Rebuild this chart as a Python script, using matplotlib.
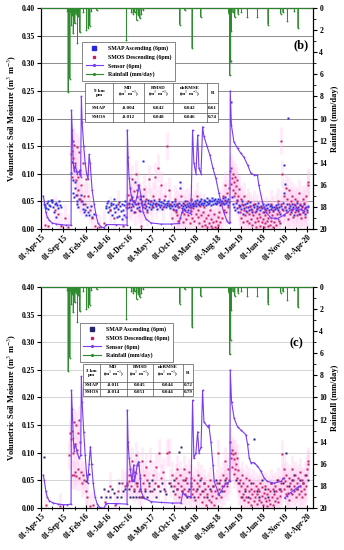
import matplotlib
matplotlib.use('Agg')
import matplotlib.pyplot as plt
import numpy as np
from matplotlib.lines import Line2D
from matplotlib.patches import Rectangle

plt.rcParams['font.family'] = ['Liberation Serif', 'DejaVu Serif']
plt.rcParams['mathtext.fontset'] = 'stix'

BASE = np.datetime64('2015-04-01')

# ---------------- data (days since 2015-04-01) ----------------
rain_day = [180, 185, 192, 197, 203, 208, 214, 220, 231, 240, 249, 258, 266, 290, 311, 323, 334, 345, 380,
            586, 620, 632, 643, 655, 666, 678, 689, 701,
            953, 987, 1037, 1097,
            1290, 1296, 1302, 1307, 1318, 1330, 1353, 1376, 1417, 1486,
            1559, 1646, 1662, 1692, 1740, 1765]
rain_mm = [0.3, 7.6, 0.5, 6.4, 0.4, 1.5, 0.6, 2.3, 1.4, 0.5, 3.2, 0.8, 2.2, 0.4, 2.0, 1.8, 1.6, 0.3, 0.2,
           2.9, 0.4, 0.5, 0.4, 1.1, 0.6, 0.9, 0.5, 0.2,
           1.5, 0.2, 3.6, 0.8,
           0.5, 6.1, 4.8, 2.1, 0.4, 0.8, 0.5, 0.4, 0.8, 0.8,
           1.5, 0.5, 0.4, 1.2, 0.3, 1.8]

# Panel (b) 9 km
sensor_b_day = [14, 21, 32, 41, 55, 75, 103, 137, 172, 205, 208, 213, 220, 226, 235, 247, 261, 271,
                276, 281, 292, 302, 312, 322, 329, 336, 350, 364, 377, 391, 412, 432, 446, 515, 590,
                592, 597, 604, 617, 631, 645, 659, 672, 686, 700, 720, 755, 823, 892, 947, 967, 974,
                1002, 1029, 1040, 1049, 1063, 1075, 1084, 1098, 1109, 1118, 1139, 1159, 1180, 1200,
                1221, 1235, 1255, 1276, 1290, 1297, 1299, 1307, 1324, 1349, 1372, 1393, 1418, 1441,
                1461, 1486, 1495, 1520, 1543, 1578, 1624, 1667, 1715, 1761, 1804, 1832]
sensor_b_val = [0.060, 0.050, 0.031, 0.022, 0.016, 0.011, 0.009, 0.008, 0.007, 0.007, 0.215, 0.180,
                0.120, 0.105, 0.115, 0.100, 0.105, 0.095, 0.240, 0.194, 0.150, 0.120, 0.100, 0.090,
                0.135, 0.120, 0.070, 0.045, 0.025, 0.010, 0.004, 0.002, 0.008, 0.008, 0.007, 0.179,
                0.130, 0.092, 0.062, 0.050, 0.045, 0.060, 0.080, 0.060, 0.031, 0.018, 0.011, 0.009,
                0.009, 0.010, 0.030, 0.035, 0.030, 0.028, 0.179, 0.120, 0.100, 0.170, 0.110, 0.100,
                0.185, 0.168, 0.150, 0.134, 0.110, 0.092, 0.065, 0.049, 0.030, 0.015, 0.010, 0.012,
                0.250, 0.188, 0.158, 0.146, 0.137, 0.130, 0.116, 0.101, 0.098, 0.097, 0.080, 0.049,
                0.031, 0.020, 0.019, 0.025, 0.035, 0.037, 0.033, 0.040]

smap_b_day = [18, 24, 29, 33, 38, 44, 49, 55, 60, 66, 71, 77, 82, 88, 93, 99, 104, 110, 116, 121, 127, 133,
              208, 212, 216, 220, 225, 230, 234, 239, 244, 249, 254, 259, 264, 269, 274, 279, 284, 290, 296,
              302, 308, 315, 322, 330, 340, 352, 366,
              442, 447, 452, 457, 462, 467, 472, 477, 482, 487, 492, 497, 502, 507, 512, 517, 522, 527, 532,
              537, 542, 547, 552, 557, 562, 567, 572, 577, 582, 587, 592,
              600, 605, 611, 616, 621, 626, 631, 636, 641, 646, 651, 656, 661, 666, 671, 676, 681, 686, 691,
              696, 701, 706, 711, 716, 721, 726, 731, 736, 741, 746, 751, 756, 761, 766, 771, 776, 781, 786,
              791, 796, 801, 806, 811, 816, 821, 826, 831, 836, 841, 846, 851, 856, 861, 866, 871, 876, 881,
              886, 891, 896, 901, 906, 911, 916, 921, 926, 931, 936, 941, 946, 951, 956, 961, 966, 971, 976,
              981, 986, 991, 996, 1001, 1006, 1011, 1016, 1021, 1026, 1031, 1036, 1041, 1046, 1051, 1056,
              1061, 1066, 1071, 1076, 1081, 1086, 1091, 1096, 1101, 1106, 1111, 1116, 1121, 1126, 1131,
              1136, 1141, 1146, 1151, 1156, 1161, 1166, 1171, 1176, 1181, 1186, 1191, 1196, 1201, 1206,
              1211, 1216, 1221, 1226, 1231, 1236, 1241, 1246, 1251, 1256, 1261, 1266, 1271, 1276, 1281,
              1286, 1291,
              1299, 1305, 1312, 1318, 1324, 1330, 1336, 1342, 1348, 1354, 1360, 1366, 1372, 1378, 1384, 1390,
              1396, 1402, 1408, 1414, 1420, 1426, 1432, 1438, 1444, 1450, 1456, 1462, 1468, 1474, 1480, 1486,
              1492, 1498, 1504, 1510, 1516, 1522, 1528, 1534, 1540, 1546, 1552, 1558, 1564, 1570, 1576, 1582,
              1588, 1594, 1600, 1606, 1612, 1618, 1624, 1630, 1636, 1642, 1648, 1654, 1660, 1666, 1669, 1672,
              1678, 1684, 1690, 1697, 1702, 1708, 1714, 1720, 1726, 1732, 1738, 1744, 1750, 1756, 1762, 1768,
              1774, 1780, 1786, 1792, 1798, 1804, 1810, 1816, 1822, 1828, 1834]
smap_b_val = [0.045, 0.040, 0.043, 0.038, 0.047, 0.050, 0.036, 0.044, 0.041, 0.052, 0.049, 0.053, 0.040, 0.031,
              0.046, 0.021, 0.048, 0.043, 0.038, 0.050, 0.044, 0.040,
              0.102, 0.121, 0.088, 0.066, 0.058, 0.085, 0.075, 0.062, 0.050, 0.046, 0.040, 0.055, 0.100, 0.106,
              0.062, 0.051, 0.045, 0.036, 0.031, 0.034, 0.026, 0.040, 0.030, 0.025, 0.041, 0.022, 0.028,
              0.042, 0.038, 0.047, 0.031, 0.051, 0.040, 0.035, 0.048, 0.043, 0.026, 0.045, 0.038, 0.055, 0.030,
              0.043, 0.040, 0.021, 0.036, 0.049, 0.023, 0.041, 0.032, 0.018, 0.046, 0.035, 0.026, 0.043, 0.050,
              0.021, 0.045, 0.038,
              0.048, 0.040, 0.052, 0.035, 0.045, 0.058, 0.042, 0.030, 0.050, 0.085, 0.045, 0.038, 0.070, 0.047,
              0.040, 0.055, 0.033, 0.048, 0.043, 0.060, 0.123, 0.045, 0.038, 0.050, 0.042, 0.035, 0.047, 0.053,
              0.040, 0.045, 0.036, 0.050, 0.043, 0.048, 0.039, 0.052, 0.045, 0.041, 0.048, 0.037, 0.046, 0.051,
              0.043, 0.040, 0.049, 0.044, 0.036, 0.047, 0.052, 0.042, 0.045, 0.039, 0.048, 0.043, 0.050, 0.041,
              0.046, 0.038, 0.044, 0.049, 0.042, 0.037, 0.045, 0.050, 0.041, 0.035, 0.046, 0.043, 0.040, 0.048,
              0.085, 0.075, 0.044, 0.038, 0.047, 0.041, 0.036, 0.050, 0.044, 0.039, 0.046, 0.042, 0.035, 0.048,
              0.043, 0.040, 0.052, 0.046, 0.041, 0.048, 0.044, 0.050, 0.042, 0.047, 0.053, 0.045, 0.049, 0.043,
              0.051, 0.046, 0.055, 0.048, 0.044, 0.052, 0.047, 0.050, 0.043, 0.056, 0.049, 0.045, 0.053, 0.048,
              0.051, 0.044, 0.057, 0.050, 0.046, 0.053, 0.048, 0.055, 0.045, 0.050, 0.047, 0.054, 0.049, 0.043,
              0.052, 0.046, 0.050, 0.056, 0.048, 0.045, 0.053, 0.058, 0.047, 0.051, 0.044, 0.055, 0.049,
              0.305, 0.230, 0.058, 0.045, 0.040, 0.035, 0.048, 0.052, 0.038, 0.030, 0.044, 0.041, 0.036, 0.050,
              0.027, 0.043, 0.038, 0.045, 0.032, 0.047, 0.040, 0.035, 0.049, 0.042, 0.037, 0.030, 0.044, 0.039,
              0.046, 0.033, 0.041, 0.036, 0.048, 0.040, 0.034, 0.042, 0.038, 0.045, 0.031, 0.040, 0.036, 0.043,
              0.038, 0.046, 0.034, 0.041, 0.037, 0.044, 0.039, 0.032, 0.040, 0.036, 0.043, 0.038, 0.045, 0.035,
              0.040, 0.028, 0.042, 0.036, 0.048, 0.065, 0.116, 0.082, 0.040, 0.034, 0.046, 0.201, 0.038, 0.042,
              0.030, 0.045, 0.036, 0.040, 0.025, 0.043, 0.035, 0.047, 0.032, 0.040, 0.028, 0.044, 0.036, 0.041,
              0.030, 0.045, 0.038, 0.027, 0.040, 0.034, 0.042]

smos_b_day = [25, 45, 95, 115, 135, 160, 185,
              206, 209, 212, 216, 220, 224, 228, 232, 236, 240, 244, 248, 252, 256, 260, 265, 270, 276, 284,
              292, 300, 310, 320, 335, 350, 370, 395,
              430, 470, 500, 530, 560, 585,
              598, 603, 608, 614, 620, 626, 632, 638, 644, 650, 656, 662, 668, 674, 680, 686, 692, 698, 704,
              712, 720, 730, 740, 750, 760, 770, 780, 790, 800, 812, 825, 838, 850, 862, 875, 888, 900, 910,
              918, 924, 930, 936, 942, 948, 954, 960, 966, 972, 978, 984, 990, 996, 1002, 1008, 1014, 1020,
              1026, 1032, 1038, 1044, 1050, 1056, 1062, 1068, 1074, 1080, 1086, 1092, 1098, 1104, 1110, 1116,
              1122, 1128, 1134, 1140, 1146, 1152, 1158, 1164, 1170, 1176, 1182, 1188, 1194, 1200, 1206, 1212,
              1218, 1224, 1230, 1236, 1242, 1248, 1254, 1260, 1266, 1272, 1278, 1284, 1290,
              1299, 1303, 1307, 1311, 1315, 1319, 1323, 1327, 1331, 1335, 1339, 1343, 1347, 1351, 1356, 1361,
              1366, 1371, 1376, 1381, 1386, 1391, 1396, 1401, 1406, 1411, 1416, 1421, 1426, 1431, 1436, 1441,
              1446, 1451, 1456, 1461, 1466, 1471, 1476, 1481, 1486, 1491, 1496, 1501, 1506, 1511, 1516, 1521,
              1526, 1531, 1536, 1541, 1546, 1551, 1556, 1561, 1566, 1571, 1576, 1581, 1586, 1591, 1596, 1601,
              1606, 1611, 1616, 1621, 1626, 1631, 1636, 1641, 1646, 1651, 1656, 1661, 1666, 1671, 1676, 1681,
              1686, 1691, 1696, 1701, 1706, 1711, 1716, 1721, 1726, 1731, 1736, 1741, 1746, 1751, 1756, 1761,
              1766, 1771, 1776, 1781, 1786, 1791, 1796, 1801, 1806, 1811, 1816, 1821, 1826, 1831, 1836]
smos_b_val = [0.008, 0.005, 0.035, 0.028, 0.005, 0.020, 0.003,
              0.135, 0.095, 0.142, 0.128, 0.160, 0.112, 0.152, 0.120, 0.105, 0.088, 0.148, 0.062, 0.095, 0.070,
              0.140, 0.055, 0.080, 0.050, 0.120, 0.060, 0.045, 0.090, 0.060, 0.035, 0.020, 0.005, 0.003,
              0.010, 0.035, 0.020, 0.045, 0.005, 0.040,
              0.062, 0.045, 0.075, 0.040, 0.055, 0.090, 0.050, 0.068, 0.030, 0.100, 0.058, 0.045, 0.080, 0.035,
              0.060, 0.005, 0.050, 0.040, 0.072, 0.045, 0.055, 0.030, 0.090, 0.050, 0.040, 0.060, 0.095, 0.045,
              0.110, 0.055, 0.080, 0.040, 0.060, 0.150, 0.070, 0.045, 0.020, 0.035, 0.055, 0.030, 0.045, 0.025,
              0.015, 0.040, 0.020, 0.060, 0.030, 0.012, 0.045, 0.028, 0.035, 0.018, 0.050, 0.025, 0.040, 0.010,
              0.032, 0.055, 0.020, 0.038, 0.015, 0.045, 0.028, 0.060, 0.022, 0.035, 0.010, 0.042, 0.025, 0.005,
              0.030, 0.015, 0.040, 0.008, 0.020, 0.003, 0.025, 0.010, 0.035, 0.005, 0.018, 0.002, 0.012, 0.028,
              0.004, 0.015, 0.002, 0.022, 0.008, 0.030, 0.012, 0.045, 0.020, 0.060, 0.035, 0.080, 0.050, 0.030,
              0.065, 0.040, 0.075,
              0.105, 0.082, 0.110, 0.092, 0.070, 0.100, 0.060, 0.085, 0.095, 0.065, 0.078, 0.050, 0.088, 0.060,
              0.040, 0.072, 0.030, 0.055, 0.020, 0.045, 0.012, 0.035, 0.060, 0.025, 0.040, 0.015, 0.030, 0.050,
              0.010, 0.028, 0.042, 0.018, 0.035, 0.008, 0.025, 0.045, 0.012, 0.030, 0.004, 0.020, 0.038, 0.015,
              0.028, 0.005, 0.022, 0.040, 0.012, 0.030, 0.018, 0.003, 0.025, 0.010, 0.035, 0.015, 0.005, 0.020,
              0.030, 0.008, 0.045, 0.015, 0.025, 0.003, 0.035, 0.012, 0.020, 0.040, 0.008, 0.028, 0.050, 0.015,
              0.030, 0.010, 0.045, 0.160, 0.100, 0.035, 0.060, 0.025, 0.040, 0.075, 0.030, 0.055, 0.018, 0.045,
              0.070, 0.028, 0.050, 0.035, 0.060, 0.022, 0.045, 0.030, 0.055, 0.040, 0.025, 0.050, 0.035, 0.065,
              0.028, 0.045, 0.020, 0.040, 0.055, 0.030, 0.048, 0.022, 0.038, 0.060, 0.030, 0.080, 0.085]

# Panel (c) 3 km
sensor_c_day = [14, 21, 32, 41, 55, 82, 117, 151, 178, 205, 208, 213, 220, 226, 235, 247, 261, 271,
                276, 281, 292, 302, 312, 319, 329, 338, 346, 357, 370, 384, 398, 412, 432, 446, 515, 590,
                592, 597, 604, 617, 624, 635, 641, 652, 659, 669, 679, 686, 707, 755, 823, 899, 960,
                972, 995, 1029, 1040, 1049, 1063, 1075, 1084, 1098, 1109, 1118, 1143, 1152, 1166, 1180,
                1189, 1210, 1221, 1235, 1255, 1276, 1297, 1299, 1308, 1326, 1349, 1372, 1406, 1418, 1429,
                1441, 1463, 1486, 1509, 1532, 1555, 1601, 1646, 1667, 1669, 1672, 1690, 1715, 1740, 1765,
                1780]
sensor_c_val = [0.060, 0.050, 0.030, 0.020, 0.013, 0.009, 0.007, 0.006, 0.006, 0.007, 0.213, 0.180,
                0.127, 0.104, 0.116, 0.100, 0.090, 0.095, 0.238, 0.192, 0.138, 0.096, 0.060, 0.045,
                0.080, 0.111, 0.080, 0.045, 0.020, 0.008, 0.002, 0.000, 0.000, 0.008, 0.008, 0.007,
                0.177, 0.120, 0.090, 0.060, 0.048, 0.078, 0.048, 0.064, 0.078, 0.084, 0.060, 0.030,
                0.018, 0.0115, 0.010, 0.009, 0.009, 0.027, 0.022, 0.020, 0.195, 0.090, 0.100, 0.138,
                0.100, 0.110, 0.213, 0.156, 0.147, 0.150, 0.120, 0.078, 0.048, 0.033, 0.024, 0.030,
                0.040, 0.045, 0.048, 0.250, 0.192, 0.162, 0.147, 0.141, 0.133, 0.115, 0.091, 0.082,
                0.082, 0.076, 0.067, 0.054, 0.048, 0.045, 0.048, 0.054, np.nan, 0.018, 0.022, 0.028,
                0.033, 0.038, 0.040]

smap_c_day = [17, 306, 330,
              412, 428, 445, 458, 472, 488, 502, 518, 532, 548, 562, 578, 590,
              603, 612, 622, 632, 641, 650, 660, 670, 680, 690, 700, 712, 725, 738, 750, 762, 775, 788,
              800, 815, 830, 845, 860, 875, 890, 905, 915, 930, 950, 958, 970, 985, 1000, 1015, 1030,
              1050, 1070, 1090, 1105, 1120, 1140, 1160, 1180, 1200, 1220, 1240, 1260, 1280,
              1340, 1360, 1380, 1400, 1420, 1440, 1460, 1480, 1500, 1520, 1540, 1560, 1580, 1600, 1620,
              1640, 1660, 1680, 1700, 1720, 1740, 1760, 1780, 1800, 1820, 1835]
smap_c_val = [0.092, 0.048, 0.062,
              0.020, 0.035, 0.020, 0.030, 0.020, 0.035, 0.028, 0.020, 0.045, 0.020, 0.030, 0.035, 0.042,
              0.035, 0.020, 0.050, 0.020, 0.030, 0.020, 0.045, 0.020, 0.035, 0.020, 0.020, 0.030, 0.020,
              0.045, 0.030, 0.050, 0.035, 0.020, 0.040, 0.030, 0.045, 0.035, 0.025, 0.045, 0.040, 0.030,
              0.050, 0.035, 0.102, 0.110, 0.030, 0.050, 0.020, 0.035, 0.045, 0.020, 0.035, 0.050, 0.030,
              0.045, 0.020, 0.035, 0.040, 0.050, 0.045, 0.030, 0.050, 0.045,
              0.050, 0.045, 0.020, 0.030, 0.020, 0.045, 0.125, 0.030, 0.020, 0.050, 0.035, 0.020, 0.045,
              0.030, 0.050, 0.035, 0.045, 0.099, 0.040, 0.050, 0.060, 0.035, 0.050, 0.045, 0.060, 0.050]

smos_c_day = [30, 130,
              192, 200, 205, 210, 214, 218, 222, 226, 230, 234, 238, 242, 246, 250, 254, 258, 262, 268, 272,
              278, 285, 295, 305, 318, 335, 355,
              440, 470, 505, 530, 555, 575, 590,
              600, 606, 612, 618, 624, 630, 636, 642, 648, 654, 660, 666, 672, 678, 684, 690, 696, 704, 712,
              720, 730, 740, 750, 760, 770, 780, 790, 800, 812, 825, 838, 850, 862, 875, 888, 900, 912, 918,
              924, 930, 936, 942, 948, 954, 960, 966, 972, 978, 984, 990, 996, 1002, 1008, 1014, 1020, 1026,
              1032, 1038, 1044, 1050, 1056, 1062, 1068, 1074, 1080, 1086, 1092, 1098, 1104, 1110, 1116, 1122,
              1128, 1134, 1140, 1146, 1152, 1158, 1164, 1170, 1176, 1182, 1188, 1194, 1200, 1206, 1212, 1218,
              1224, 1230, 1236, 1242, 1248, 1254, 1260, 1266, 1272, 1278, 1284, 1290,
              1298, 1302, 1306, 1310, 1314, 1318, 1322, 1326, 1330, 1334, 1338, 1342, 1346, 1350, 1355, 1360,
              1365, 1370, 1375, 1380, 1385, 1390, 1395, 1400, 1405, 1410, 1415, 1420, 1425, 1430, 1435, 1440,
              1445, 1450, 1455, 1460, 1465, 1470, 1475, 1480, 1485, 1490, 1495, 1500, 1505, 1510, 1515, 1520,
              1525, 1530, 1535, 1540, 1545, 1550, 1555, 1560, 1565, 1570, 1575, 1580, 1585, 1590, 1595, 1600,
              1605, 1610, 1615, 1620, 1625, 1630, 1635, 1640, 1645, 1650, 1655, 1660, 1665, 1670, 1675, 1680,
              1685, 1690, 1695, 1700, 1705, 1710, 1715, 1720, 1725, 1730, 1735, 1740, 1745, 1750, 1755, 1760,
              1765, 1770, 1775, 1780, 1785, 1790, 1795, 1800, 1805, 1810, 1815, 1820, 1825, 1830, 1836]
smos_c_val = [0.005, 0.003,
              0.096, 0.135, 0.125, 0.060, 0.140, 0.100, 0.155, 0.060, 0.115, 0.065, 0.150, 0.058, 0.105, 0.135,
              0.070, 0.160, 0.055, 0.120, 0.065, 0.045, 0.060, 0.050, 0.030, 0.020, 0.003, 0.005,
              0.010, 0.040, 0.005, 0.030, 0.045, 0.040, 0.045,
              0.060, 0.048, 0.070, 0.040, 0.085, 0.050, 0.035, 0.065, 0.095, 0.045, 0.040, 0.078, 0.030, 0.055,
              0.020, 0.085, 0.045, 0.060, 0.035, 0.075, 0.050, 0.040, 0.085, 0.030, 0.060, 0.045, 0.075, 0.040,
              0.100, 0.055, 0.065, 0.030, 0.100, 0.101, 0.045, 0.060, 0.040, 0.025, 0.055, 0.070, 0.035, 0.045,
              0.020, 0.060, 0.040, 0.030, 0.050, 0.070, 0.035, 0.025, 0.055, 0.045, 0.030, 0.065, 0.020, 0.040,
              0.055, 0.025, 0.035, 0.050, 0.015, 0.030, 0.045, 0.060, 0.020, 0.040, 0.025, 0.055, 0.010, 0.030,
              0.045, 0.020, 0.035, 0.005, 0.025, 0.040, 0.015, 0.050, 0.030, 0.010, 0.022, 0.040, 0.005, 0.030,
              0.018, 0.045, 0.025, 0.100, 0.035, 0.050, 0.020, 0.040, 0.060, 0.030, 0.045, 0.085, 0.055, 0.040,
              0.070, 0.050,
              0.120, 0.100, 0.090, 0.105, 0.075, 0.098, 0.062, 0.088, 0.100, 0.070, 0.080, 0.055, 0.090, 0.045,
              0.068, 0.030, 0.050, 0.020, 0.040, 0.060, 0.025, 0.045, 0.015, 0.035, 0.055, 0.020, 0.040, 0.010,
              0.030, 0.050, 0.018, 0.035, 0.005, 0.025, 0.045, 0.012, 0.030, 0.020, 0.040, 0.008, 0.025, 0.035,
              0.015, 0.030, 0.045, 0.010, 0.022, 0.038, 0.005, 0.028, 0.018, 0.040, 0.012, 0.025, 0.003, 0.035,
              0.015, 0.030, 0.008, 0.045, 0.020, 0.035, 0.005, 0.025, 0.040, 0.012, 0.030, 0.018, 0.050, 0.010,
              0.035, 0.022, 0.045, 0.030, 0.098, 0.055, 0.070, 0.035, 0.048, 0.025, 0.060, 0.040, 0.028, 0.055,
              0.015, 0.045, 0.035, 0.070, 0.025, 0.050, 0.040, 0.030, 0.060, 0.020, 0.045, 0.035, 0.055, 0.025,
              0.040, 0.065, 0.030, 0.050, 0.020, 0.045, 0.035, 0.060, 0.025, 0.040, 0.070, 0.080, 0.085]

table_cols = ['MD\n(m$^3$ m$^{-3}$)', 'RMSD\n(m$^3$ m$^{-3}$)', 'ubRMSE\n(m$^3$ m$^{-3}$)', 'R']
table_rows = ['SMAP', 'SMOS']
stats_b = [['-0.004', '0.042', '0.042', '0.61'], ['-0.012', '0.048', '0.046', '0.74']]
stats_c = [['-0.011', '0.045', '0.044', '0.72'], ['-0.014', '0.051', '0.044', '0.79']]

tick_dates = ['2015-04-01', '2015-09-01', '2016-02-01', '2016-07-01', '2016-12-01', '2017-05-01',
              '2017-10-01', '2018-03-01', '2018-08-01', '2019-01-01', '2019-06-01', '2019-11-01',
              '2020-04-01']
tick_labels = ['01-Apr-15', '01-Sep-15', '01-Feb-16', '01-Jul-16', '01-Dec-16', '01-May-17',
               '01-Oct-17', '01-Mar-18', '01-Aug-18', '01-Jan-19', '01-Jun-19', '01-Nov-19',
               '01-Apr-20']

SMOS_ERR = 0.025


def d(days):
    return BASE + np.array(days, dtype='int64').astype('timedelta64[D]')


def d_list(strs):
    return [np.datetime64(s) for s in strs]


C_SENSOR = '#7a3cf0'
C_SMOS = '#c0206a'
C_PINK = '#ffc8f0'
C_RAIN = '#2e8b2e'


def draw_table(ax, cols_x, rows_y, head, stats):
    tr = ax.transAxes
    ax.add_patch(Rectangle((cols_x[0], rows_y[-1]), cols_x[-1] - cols_x[0], rows_y[0] - rows_y[-1],
                           transform=tr, facecolor='white', edgecolor='#555555', lw=0.5, zorder=8,
                           clip_on=False))
    for x in cols_x[1:-1]:
        ax.plot([x, x], [rows_y[-1], rows_y[0]], transform=tr, color='#555555', lw=0.5, zorder=9,
                clip_on=False)
    for y in rows_y[1:-1]:
        ax.plot([cols_x[0], cols_x[-1]], [y, y], transform=tr, color='#555555', lw=0.5, zorder=9,
                clip_on=False)
    fs = 3.6
    heads = [head] + table_cols
    for i, h in enumerate(heads):
        cx = (cols_x[i] + cols_x[i + 1]) / 2
        cy = (rows_y[0] + rows_y[1]) / 2
        ax.text(cx, cy, h, transform=tr, ha='center', va='center', fontsize=fs, fontweight='bold',
                zorder=10, linespacing=1.1)
    for r in range(2):
        cy = (rows_y[r + 1] + rows_y[r + 2]) / 2
        vals = [table_rows[r]] + stats[r]
        for i, v in enumerate(vals):
            cx = (cols_x[i] + cols_x[i + 1]) / 2
            ax.text(cx, cy, v, transform=tr, ha='center', va='center', fontsize=fs,
                    fontweight='bold', zorder=10)


def panel(ax, sensor_day, sensor_val, smap_day, smap_val, smos_day, smos_val, smap_color,
          grid_color, tag, tag_xy, leg_xy, table_x, table_y, head, stats):
    ax.set_ylim(0, 0.40)
    ax.set_xlim(d([-2])[0], d([1868])[0])
    for yv in np.arange(0.05, 0.40, 0.05):
        ax.axhline(yv, color=grid_color, lw=0.7, zorder=0)
    sv = np.array(smos_val)
    ax.errorbar(d(smos_day), sv, yerr=SMOS_ERR, fmt='none', ecolor=C_PINK, elinewidth=2.2,
                alpha=0.35, zorder=1)
    ax.plot(d(smos_day), sv, 's', ms=1.6, color=C_SMOS, mec='none', zorder=3)
    ax.plot(d(sensor_day), sensor_val, '-', color=C_SENSOR, lw=0.8, marker='o', ms=1.3,
            mec='none', zorder=4)
    ax.plot(d(smap_day), smap_val, 's', ms=2.0, color=smap_color, mec='none', zorder=2)

    ax.set_xticks(d_list(tick_dates))
    ax.set_xticklabels(tick_labels, rotation=45, ha='right', rotation_mode='anchor',
                       fontsize=5.5, fontweight='bold')
    mids = [np.datetime64(tick_dates[i]) + (np.datetime64(tick_dates[i + 1]) - np.datetime64(tick_dates[i])) // 2
            for i in range(len(tick_dates) - 1)]
    ax.set_xticks(mids, minor=True)
    ax.set_yticks(np.arange(0, 0.401, 0.05))
    ax.set_yticklabels(['%.2f' % v for v in np.arange(0, 0.401, 0.05)], fontsize=5.5,
                       fontweight='bold')
    ax.tick_params(axis='x', which='major', direction='inout', length=4, width=0.8, pad=1)
    ax.tick_params(axis='x', which='minor', direction='inout', length=2.5, width=0.6)
    ax.tick_params(axis='y', which='major', direction='out', length=3, width=0.8, pad=1.5)
    ax.set_ylabel('Volumetric Soil Moisture (m$^3$ m$^{-3}$)', fontsize=6, fontweight='bold',
                  labelpad=2)
    for s in ax.spines.values():
        s.set_linewidth(0.8)

    # rainfall (daily series, markers on rain days)
    ax2 = ax.twinx()
    full_days = np.arange(0, 1840)
    full_rain = np.zeros(len(full_days))
    full_rain[np.array(rain_day)] = rain_mm
    ax2.plot(d(full_days), full_rain, '-', color=C_RAIN, lw=0.6, zorder=5)
    ax2.axhline(0, color=C_RAIN, lw=1.3, zorder=5)
    ax2.plot(d(rain_day), rain_mm, 'o', color=C_RAIN, ms=1.3, mec='none', zorder=5)
    ax2.set_ylim(20, 0)
    ax2.set_xlim(ax.get_xlim())
    ax2.set_yticks(np.arange(0, 21, 2))
    ax2.set_yticklabels([str(v) for v in range(0, 21, 2)], fontsize=5.5, fontweight='bold')
    ax2.set_yticks(np.arange(1, 20, 2), minor=True)
    ax2.tick_params(axis='y', which='major', direction='out', length=3, width=0.8, pad=1.5)
    ax2.tick_params(axis='y', which='minor', direction='out', length=1.8, width=0.6)
    ax2.set_ylabel('Rainfall (mm/day)', fontsize=6, fontweight='bold', rotation=90, labelpad=3)

    handles = [Line2D([], [], ls='none', marker='s', ms=2.2, color=smap_color),
               Line2D([], [], ls='none', marker='s', ms=2.0, color=C_SMOS),
               Line2D([], [], ls='-', lw=0.8, marker='o', ms=1.3, color=C_SENSOR),
               Line2D([], [], ls='-', lw=0.8, marker='o', ms=1.3, color=C_RAIN)]
    labels = ['SMAP Ascending (6pm)', 'SMOS Descending (6pm)', 'Sensor (6pm)', 'Rainfall (mm/day)']
    leg = ax2.legend(handles, labels, loc='upper left', bbox_to_anchor=leg_xy,
                     frameon=True, fancybox=False, edgecolor='#555555', framealpha=1,
                     handlelength=3.0, labelspacing=0.5, borderpad=0.6, handletextpad=0.8,
                     borderaxespad=0, prop={'weight': 'bold', 'size': 4.2})
    leg.get_frame().set_linewidth(0.5)
    leg.set_zorder(20)

    draw_table(ax2, table_x, table_y, head, stats)
    ax2.text(tag_xy[0], tag_xy[1], tag, transform=ax2.transAxes, fontsize=9, fontweight='bold',
             ha='center', va='center', zorder=30)
    return ax2


fig = plt.figure(figsize=(3.44, 5.50), dpi=100)
ax_b = fig.add_axes([0.119, 0.5836, 0.791, 0.4018])
ax_c = fig.add_axes([0.119, 0.0764, 0.791, 0.4018])

panel(ax_b, sensor_b_day, sensor_b_val, smap_b_day, smap_b_val, smos_b_day, smos_b_val,
      '#2828e0', '#8c8c8c', '(b)', (0.955, 0.83), (0.151, 0.846),
      [0.162, 0.265, 0.378, 0.485, 0.610, 0.651], [0.661, 0.570, 0.527, 0.484],
      '9 km\npm', stats_b)
panel(ax_c, sensor_c_day, sensor_c_val, smap_c_day, smap_c_val, smos_c_day, smos_c_val,
      '#252570', '#d4d4d4', '(c)', (0.94, 0.745), (0.143, 0.837),
      [0.154, 0.217, 0.316, 0.412, 0.522, 0.560], [0.650, 0.572, 0.540, 0.508],
      '3 km\npm', stats_c)

fig.savefig('out.png', dpi=100)
